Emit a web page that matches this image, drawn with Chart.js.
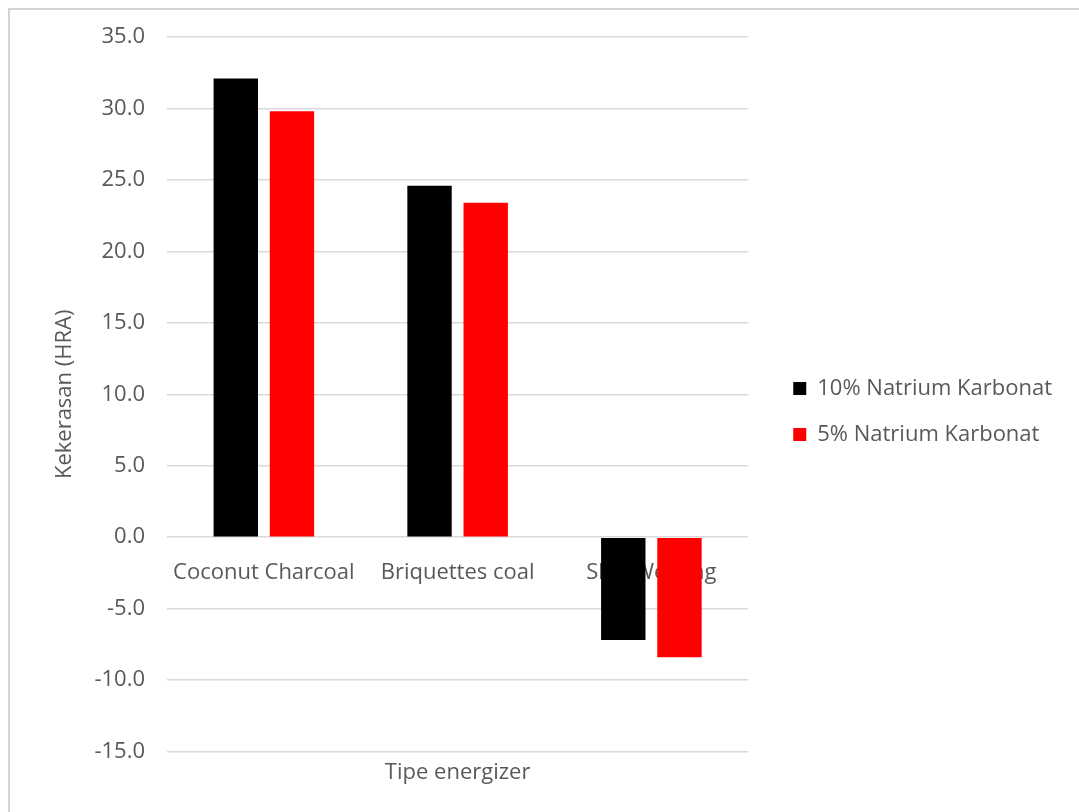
<!DOCTYPE html>
<html>
<head>
<meta charset="utf-8">
<script src="https://cdn.jsdelivr.net/npm/chart.js@4/dist/chart.umd.min.js"></script>
<style>
  html, body { margin: 0; padding: 0; background: #fff; }
  #wrap { width: 1079px; height: 812px; position: relative; }
</style>
</head>
<body>
<div id="wrap"><canvas id="hardnessChart"></canvas></div>
<script>
// Chart data
const categories = ["Coconut Charcoal", "Briquettes coal", "Slag Welding"];
const series10 = [32.1, 24.6, -7.2];
const series5 = [29.8, 23.4, -8.4];
const seriesNames = ["10% Natrium Karbonat", "5% Natrium Karbonat"];
const yMin = -15;
const yMax = 35;
const yStep = 5;

const textColor = '#595959';
const gridColor = '#d9d9d9';
const font = { family: 'Open Sans', size: 22 };

// Light grey frame round the whole chart
const framePlugin = {
    id: 'frame',
    afterDraw(chart) {
        const ctx = chart.ctx;
        ctx.save();
        ctx.strokeStyle = '#d4d4d4';
        ctx.lineWidth = 2;
        ctx.strokeRect(9, 9, 1200, 1000);
        ctx.restore();
    }
};

const ctx = document.getElementById('hardnessChart').getContext('2d');

const hardnessChart = new Chart(ctx, {
    type: 'bar',
    data: {
        labels: categories,
        datasets: [
            {
                label: seriesNames[0],
                data: series10,
                backgroundColor: '#000000',
                xAxisID: 'x',
                yAxisID: 'y',
            }, {
                label: seriesNames[1],
                data: series5,
                backgroundColor: '#ff0000',
                xAxisID: 'x',
                yAxisID: 'y',
            }]
    },
    options: {
        responsive: true,
        maintainAspectRatio: false,
        animation: false,
        categoryPercentage: 0.58,
        barPercentage: 0.79,
        layout: {
            autoPadding: false,
            padding: { left: 52, right: 17, top: 37, bottom: 26 }
        },
        plugins: {
            legend: {
                position: 'right',
                maxWidth: 340,
                labels: {
                    boxWidth: 13,
                    boxHeight: 13,
                    padding: 24,
                    color: textColor,
                    font: font
                }
            },
            tooltip: { enabled: false }
        },
        scales: {
            x: {
                type: 'category',
                position: { y: 0 },
                grid: { display: false },
                border: { display: false },
                ticks: {
                    color: textColor,
                    font: font,
                    padding: 14,
                    maxRotation: 0,
                    autoSkip: false
                }
            },
            x2: {
                type: 'category',
                position: 'bottom',
                grid: { display: false, drawTicks: false },
                border: { display: false },
                ticks: { display: false },
                title: {
                    display: true,
                    text: 'Tipe energizer',
                    color: textColor,
                    font: font,
                    padding: { top: 8, bottom: 0 }
                }
            },
            y: {
                min: yMin,
                max: yMax,
                grid: {
                    color: gridColor,
                    lineWidth: 1.5,
                    drawTicks: false
                },
                border: { display: false },
                ticks: {
                    stepSize: yStep,
                    color: textColor,
                    font: font,
                    padding: 22,
                    callback: function (value) {
                        return value.toFixed(1);
                    }
                },
                title: {
                    display: true,
                    text: 'Kekerasan (HRA)',
                    color: textColor,
                    font: font,
                    padding: { top: 0, bottom: 18 }
                },
                afterFit: function (scale) {
                    scale.width = 115;
                }
            },
            // empty space between plot and legend
            gap: {
                type: 'linear',
                position: 'right',
                grid: { display: false, drawTicks: false },
                border: { display: false },
                ticks: { display: false },
                afterFit: function (scale) {
                    scale.width = 21;
                }
            }
        }
    },
    plugins: [framePlugin]
});
</script>
</body>
</html>
